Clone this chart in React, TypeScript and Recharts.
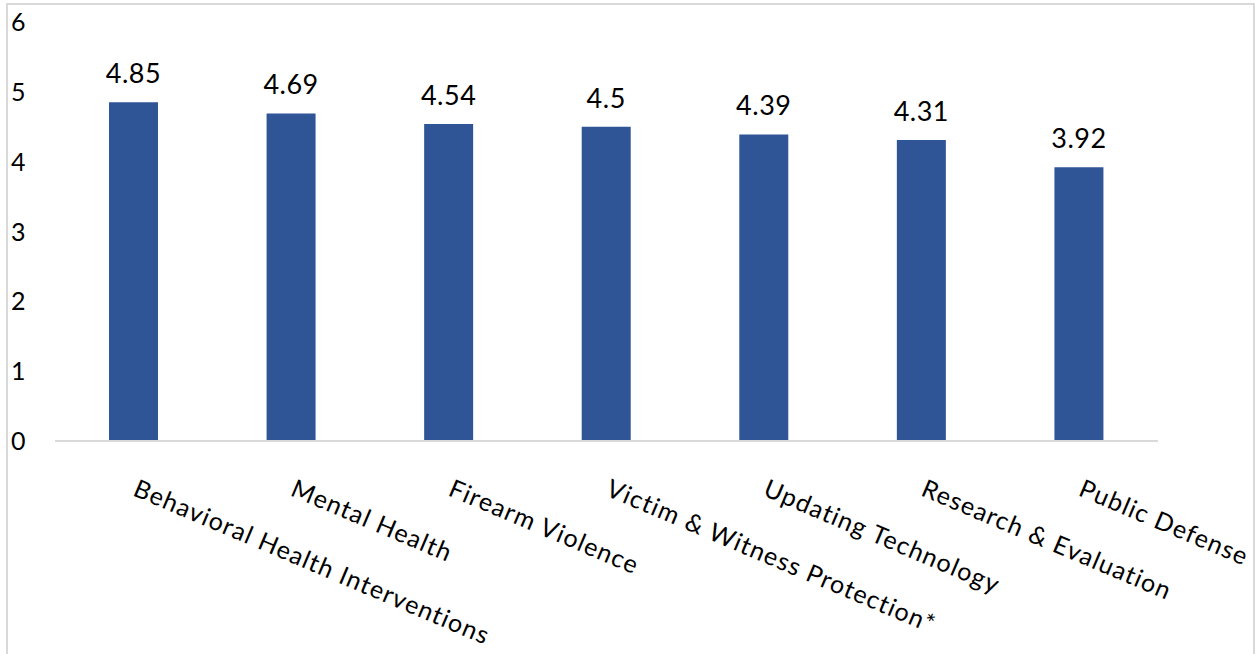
import { BarChart, Bar, XAxis, YAxis, LabelList } from 'recharts'

const categories = [
  'Behavioral Health Interventions',
  'Mental Health',
  'Firearm Violence',
  'Victim & Witness Protection*',
  'Updating Technology',
  'Research & Evaluation',
  'Public Defense',
]
const scores = [4.85, 4.69, 4.54, 4.5, 4.39, 4.31, 3.92]
const yTicks = [0, 1, 2, 3, 4, 5, 6]

const FONT = 'Lato, "Open Sans", sans-serif'

const data = categories.map((name, i) => ({ name, score: scores[i] }))

function YTick({ y, payload }: { y?: number; payload?: { value: number } }) {
  return (
    <text x={3} y={(y ?? 0) + 9} fontFamily={FONT} fontSize={25} fill="#000" textAnchor="start">
      {payload?.value}
    </text>
  )
}

function XTick({ x, y, payload }: { x?: number; y?: number; payload?: { value: string } }) {
  const tx = (x ?? 0) - 2
  const ty = (y ?? 0) + 46
  return (
    <text
      x={tx}
      y={ty}
      transform={`rotate(23, ${tx}, ${ty})`}
      fontFamily={FONT}
      fontSize={25}
      letterSpacing={1.2}
      fill="#000"
      textAnchor="start"
    >
      {payload?.value}
    </text>
  )
}

function ValueLabel(props: any) {
  const { x, y, width, value } = props
  return (
    <text
      x={x + width / 2}
      y={y - 19}
      fontFamily={FONT}
      fontSize={27}
      letterSpacing={0.5}
      fill="#000"
      textAnchor="middle"
    >
      {value}
    </text>
  )
}

export default function App() {
  return (
    <div
      style={{
        position: 'absolute',
        left: 6,
        top: 3,
        width: 1249,
        height: 651,
        boxSizing: 'border-box',
        borderLeft: '2px solid #d9d9d9',
        borderTop: '2px solid #d9d9d9',
        borderRight: '2px solid #d9d9d9',
        background: '#fff',
      }}
    >
      <BarChart width={1245} height={649} data={data} margin={{ top: 17, right: 95, left: 0, bottom: 0 }}>
        <XAxis
          dataKey="name"
          interval={0}
          height={213}
          tick={<XTick />}
          tickLine={false}
          axisLine={{ stroke: '#d9d9d9', strokeWidth: 2 }}
        />
        <YAxis
          width={47}
          domain={[0, 6]}
          ticks={yTicks}
          interval={0}
          tick={<YTick />}
          axisLine={false}
          tickLine={false}
        />
        <Bar dataKey="score" fill="#2F5597" barSize={49} isAnimationActive={false}>
          <LabelList dataKey="score" content={<ValueLabel />} />
        </Bar>
      </BarChart>
    </div>
  )
}
